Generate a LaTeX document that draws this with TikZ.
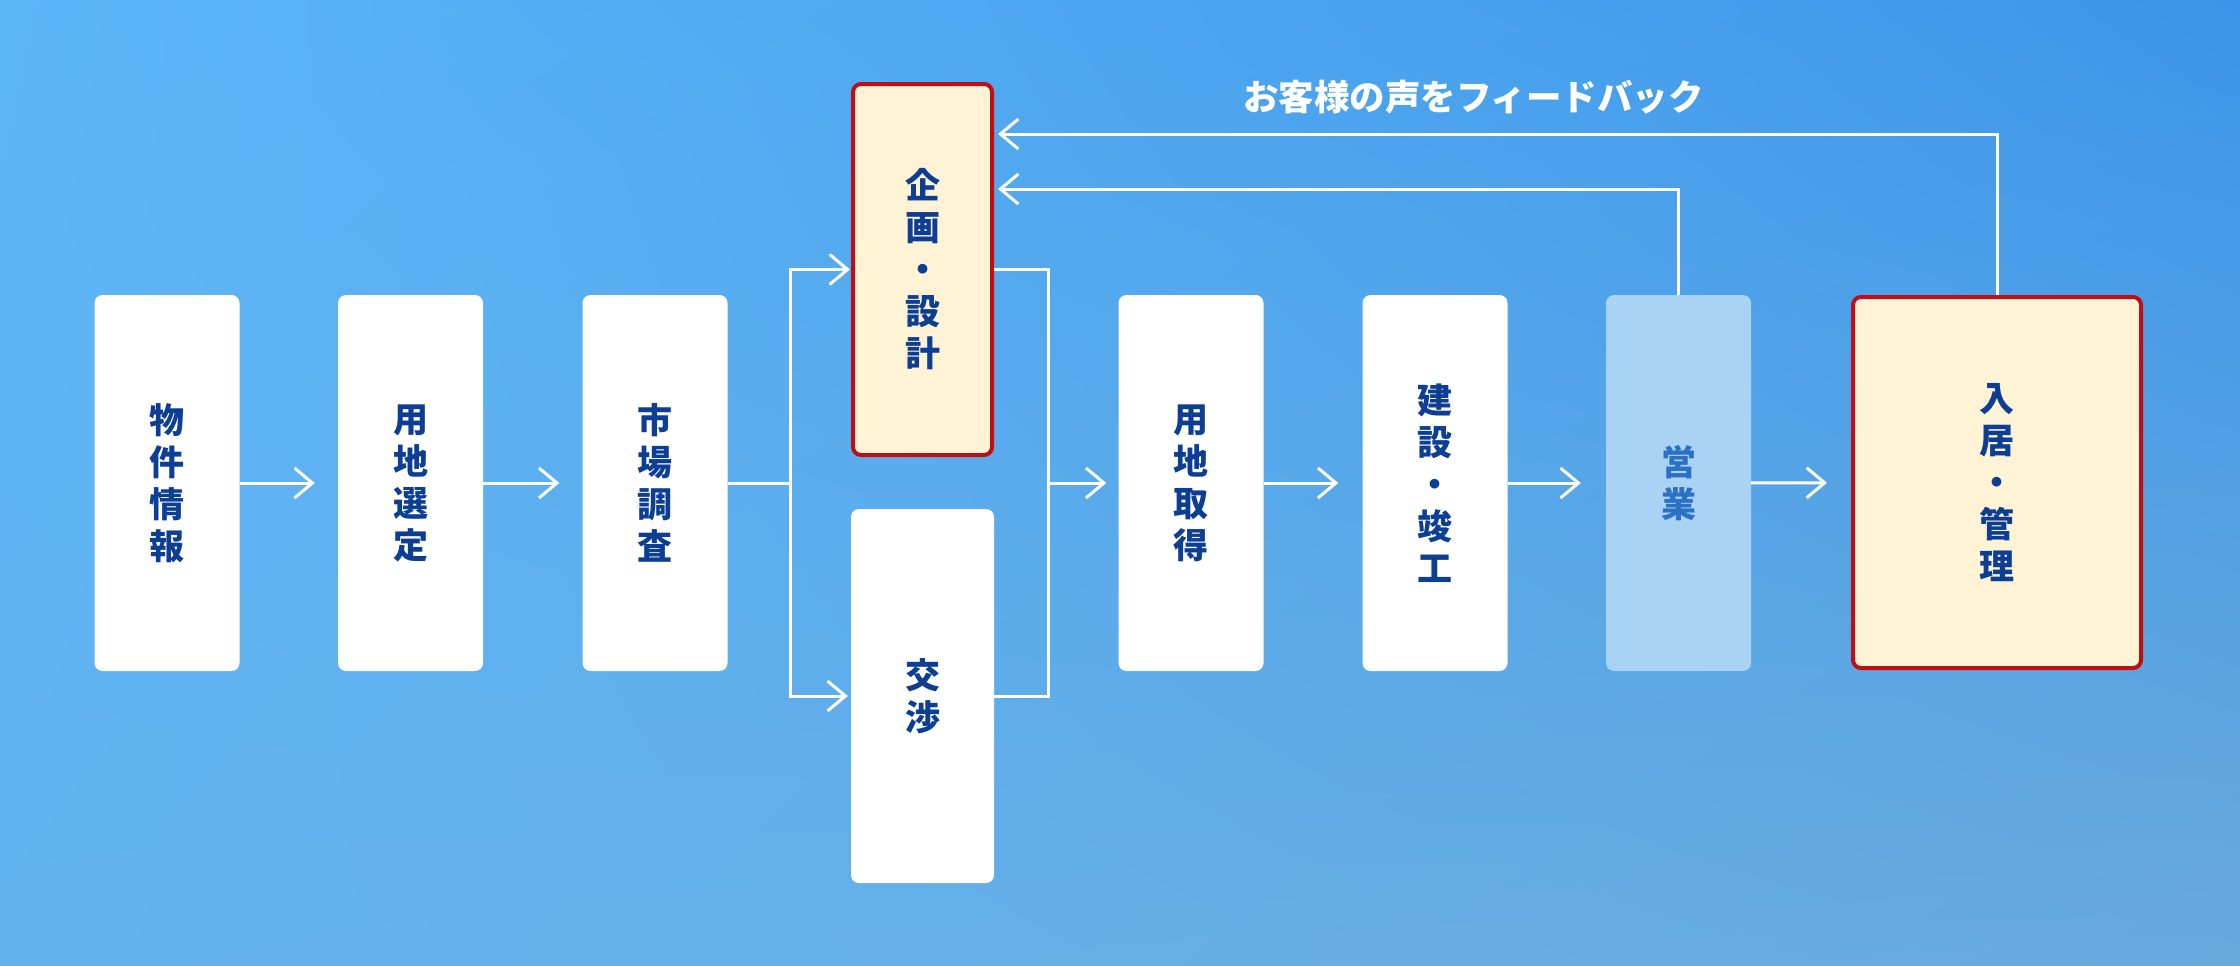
\documentclass[tikz,border=0pt]{standalone}
\usepackage{fontspec}
\newfontfamily\jp{Noto Sans CJK JP}
\usetikzlibrary{arrows.meta,shadings}
\definecolor{bgTL}{HTML}{5DB6F6}
\definecolor{bgTR}{HTML}{3C95EA}
\definecolor{bgBL}{HTML}{62B3F0}
\definecolor{bgBR}{HTML}{68AADC}
\definecolor{navy}{HTML}{0C3E93}
\definecolor{cream}{HTML}{FFF3D6}
\definecolor{redline}{HTML}{BE0F14}
\definecolor{salesbox}{HTML}{A9D3F5}
\definecolor{salestext}{HTML}{2B71C4}
\tikzset{
  stepbox/.style={fill=white, rounded corners=8pt, minimum width=145pt, minimum height=376pt,
    inner sep=0pt, align=center, text=navy, font=\jp\bfseries\fontsize{35}{42}\selectfont},
  hlbox/.style={stepbox, fill=cream, draw=redline, line width=4pt},
  salesstep/.style={stepbox, fill=salesbox, text=salestext},
  conn/.style={draw=white, line width=3pt},
  arr/.style={conn, -{Straight Barb[length=18pt, width=30pt, line width=3pt]}},
}
\begin{document}
\begin{tikzpicture}[x=1pt, y=-1pt]
\useasboundingbox (0,0) rectangle (2240,966);
\shade[upper left=bgTL, upper right=bgTR, lower left=bgBL, lower right=bgBR] (0,0) rectangle (2240,966);

\node[stepbox] (n1) at (167,483) {物\\件\\情\\報};
\node[stepbox] (n2) at (410.5,483) {用\\地\\選\\定};
\node[stepbox] (n3) at (655,483) {市\\場\\調\\査};
\node[hlbox, minimum width=139pt, minimum height=371pt] (n4) at (922.5,269.5) {企\\画\\・\\設\\計};
\node[stepbox, minimum width=143pt, minimum height=374pt] (n5) at (922.5,696) {交\\渉};
\node[stepbox] (n6) at (1191,483) {用\\地\\取\\得};
\node[stepbox] (n7) at (1435,483) {建\\設\\・\\竣\\工};
\node[salesstep] (n8) at (1678.5,483) {営\\業};
\node[hlbox, minimum width=288pt, minimum height=371pt] (n9) at (1997,482.5) {入\\居\\・\\管\\理};

\node[text=white, font=\jp\bfseries\fontsize{35.5}{40}\selectfont, inner sep=0pt] (fb) at (1473.5,97) {お客様の声をフィードバック};

\draw[arr, shorten >=23pt] (n1) -- (n2);
\draw[arr, shorten >=23pt] (n2) -- (n3);

\coordinate (sp) at (790,483);
\coordinate (jn) at (1048,483);
\draw[conn] (n3.east) -- (sp);
\draw[arr, shorten >=1pt] (sp) |- (n4.west);
\draw[arr, shorten >=3pt] (sp) |- (n5.west);
\draw[conn] (n4.east) -| (jn);
\draw[conn] (n5.east) -| (jn);
\draw[arr, shorten >=12pt] (jn) -- (n6.west);

\draw[arr, shorten >=24pt] (n6) -- (n7);
\draw[arr, shorten >=25pt] (n7) -- (n8);
\draw[arr, shorten >=24pt] (n8) -- (n9);

\draw[arr, shorten >=4pt] (n8.north) |- (n4.east |- 0,189);
\draw[arr, shorten >=4pt] (n9.north) |- (n4.east |- 0,134);
\end{tikzpicture}
\end{document}
